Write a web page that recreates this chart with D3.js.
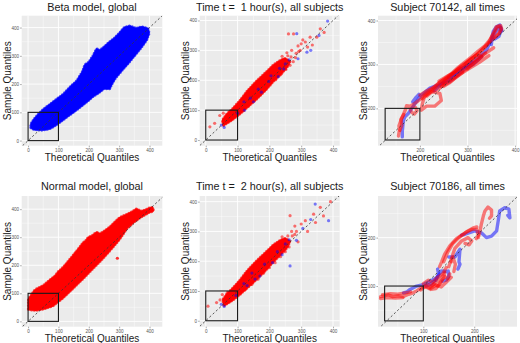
<!DOCTYPE html>
<html>
<head>
<meta charset="utf-8">
<script src="https://cdn.jsdelivr.net/npm/d3@7"></script>
<style>
  body { margin: 0; background: #fff; }
  svg text { font-family: "Liberation Sans", Arial, sans-serif; white-space: pre; }
</style>
</head>
<body>
<div id="chart"></div>
<script>
// ---- data (data units) ----
const titles = [
  "Beta model, global",
  "Time t =  1 hour(s), all subjects",
  "Subject 70142, all times",
  "Normal model, global",
  "Time t =  2 hour(s), all subjects",
  "Subject 70186, all times"
];
const ticksMain = [0, 100, 200, 300, 400];
const ticksS1 = [200, 300, 400];
const ticksS2 = [100, 200];
const minorMain = [50, 150, 250, 350];
const minorS1 = [150, 250, 350];
const minorS2 = [50, 150, 250];

// dense clouds as outlines
const betaCloud = [[10,46],[20,40],[45,38],[70,42],[95,58],[128,85],[150,102],[172,120],[195,140],[215,158],[235,172],[250,185],[268,184],[275,200],[287,222],[300,238],[314,256],[330,275],[346,296],[360,314],[372,330],[390,357],[398,380],[394,396],[375,402],[355,396],[335,405],[318,400],[300,378],[285,362],[268,348],[250,330],[236,318],[226,324],[215,300],[200,276],[188,268],[180,244],[162,212],[140,190],[118,165],[95,146],[73,128],[51,110],[35,93],[20,75],[10,58]];
const normalCloud = [[2,43],[25,40],[51,45],[80,55],[110,80],[128,98],[155,126],[183,156],[210,186],[237,215],[260,242],[281,268],[300,292],[325,332],[345,352],[368,370],[396,388],[412,394],[410,405],[401,404],[390,398],[372,392],[357,400],[340,388],[320,378],[303,370],[285,352],[270,336],[250,320],[237,311],[226,317],[212,305],[199,299],[190,286],[183,281],[165,256],[144,228],[130,210],[117,193],[100,176],[90,162],[70,145],[51,127],[30,116],[20,108],[13,96],[2,79]];
const normalOut = [[294,225]];

// time panels: dense core plus scattered points
const t1Core = [[56,50],[80,66],[107,88],[130,110],[160,138],[190,170],[213,198],[235,220],[255,244],[264,262],[250,272],[235,266],[213,250],[190,226],[160,196],[130,162],[107,130],[85,104],[65,84],[53,66]];
const t1Red = [[13,44],[28,56],[44,82],[55,90],[70,78],[62,72],[75,95],[82,70],[90,108],[96,82],[112,135],[118,98],[128,150],[135,115],[145,168],[152,133],[162,196],[170,150],[178,210],[186,168],[195,225],[202,188],[210,240],[220,202],[228,258],[236,220],[245,270],[252,236],[258,282],[265,250],[270,300],[275,262],[260,355],[276,355],[284,290],[290,315],[297,300],[305,335],[313,328],[320,311],[328,344],[335,318],[349,344],[360,372],[372,360],[300,322],[255,292],[268,278],[282,276],[292,296],[240,280],[215,228],[186,200]];
const t1Blue = [[49,50],[58,42],[100,90],[122,100],[150,128],[198,196],[228,212],[245,238],[286,356],[318,294],[330,300],[383,398],[356,350],[290,272],[175,160],[262,268],[120,128],[140,140],[165,170],[205,215],[232,240],[250,255]];
const t2Core = [[58,52],[82,68],[108,90],[132,113],[160,140],[190,172],[213,200],[235,223],[255,246],[264,266],[250,276],[235,270],[213,254],[190,230],[160,200],[130,166],[107,134],[85,108],[66,88],[54,70]];
const t2Red = [[7,49],[34,61],[45,70],[52,88],[60,65],[68,95],[75,72],[85,105],[90,80],[100,122],[108,92],[118,140],[125,105],[138,160],[145,122],[158,182],[165,140],[175,200],[182,160],[195,220],[200,178],[212,238],[218,195],[228,255],[235,215],[245,268],[250,232],[258,285],[262,248],[265,353],[270,300],[280,318],[290,265],[300,325],[313,336],[320,300],[339,358],[345,330],[360,381],[370,352],[392,400],[280,290],[272,285],[285,300],[240,282],[222,250]];
const t2Blue = [[49,55],[58,48],[95,85],[130,118],[170,150],[210,195],[240,222],[265,184],[285,270],[305,310],[344,392],[386,336],[330,340],[250,258],[155,140],[120,125],[145,160],[185,190],[225,232],[262,272]];

// subject panels: trajectories
const s1Red = [
  [[155,137],[157,150],[156,160],[160,172],[165,185],[170,198],[172,206],[180,205],[190,203],[194,195],[188,187],[182,192],[178,204],[190,212],[200,220],[210,232],[224,244],[238,256],[252,268],[266,279],[280,293],[294,305],[308,317],[322,330],[336,342],[347,356],[356,372],[363,385],[370,388],[372,380],[366,370],[357,362],[348,352]],
  [[203,196],[214,205],[231,205],[245,218],[242,234],[224,238],[210,228],[205,210],[203,196]],
  [[250,250],[262,258],[275,270],[290,282],[285,292],[270,280],[255,268],[248,258]],
  [[240,262],[260,275],[280,285],[300,298],[320,314],[340,327],[355,338]],
  [[245,250],[265,262],[285,278],[305,292],[325,305],[345,320]],
  [[300,290],[315,305],[330,318],[320,322],[305,310],[295,300]],
  [[200,230],[215,240],[230,248],[245,262],[258,270],[272,282],[286,296],[300,306],[315,318],[330,332],[342,345]],
  [[205,222],[220,236],[236,250],[250,258],[264,272],[278,288],[292,298],[306,312],[320,322],[334,338],[345,350]],
  [[215,228],[228,240],[242,246],[256,262],[270,268],[284,280],[298,290],[312,302],[326,314],[338,326]],
  [[345,350],[350,362],[356,375],[360,385],[366,388],[370,382],[367,372],[362,366],[356,360]],
  [[158,150],[162,162],[160,175],[166,186]]
];
const s1Blue = [
  [[163,135],[163,147],[164,158],[165,170],[168,180],[176,189],[183,200],[190,211],[203,230],[221,246],[238,253],[259,265],[280,284],[301,299],[322,314],[340,333],[350,356],[354,375],[361,386],[368,390],[371,379],[366,364],[357,358]],
  [[185,215],[192,225],[198,232]],
  [[260,270],[275,280],[290,292],[310,305]],
  [[230,240],[245,255],[262,262],[278,275],[296,292],[312,300],[330,318]],
  [[350,345],[352,360],[358,372],[364,380],[370,384],[372,376]]
];
const s2Red = [
  [[16,78],[25,80],[31,82],[40,78],[51,80],[60,78],[71,83],[80,86],[87,90],[97,97],[110,103],[118,100],[123,107],[130,112],[136,117],[142,128],[140,118],[133,105],[125,95],[115,93],[105,98]],
  [[16,74],[30,76],[45,75],[60,76]],
  [[20,82],[35,84],[50,83],[65,86],[75,88]],
  [[95,92],[105,100],[112,96],[120,104],[128,100],[135,110],[142,120],[148,115],[152,125]],
  [[100,105],[110,112],[118,108],[128,118],[138,125],[145,138],[140,128]],
  [[115,95],[125,102],[135,98],[145,108],[155,118]],
  [[132,140],[136,150],[142,166],[152,183],[165,198],[182,210],[195,217],[205,217],[208,205],[204,198]],
  [[140,150],[148,170],[158,188],[170,200],[185,212],[198,220],[205,222]],
  [[150,140],[156,159],[162,178],[175,193],[188,200],[195,193],[190,185],[182,188]],
  [[160,130],[163,145],[158,160],[155,150]],
  [[208,200],[211,212],[214,228],[218,245],[221,255],[227,263],[234,257],[234,245],[230,240]]
];
const s2Blue = [
  [[61,86],[68,88],[74,93],[87,100],[100,103],[113,110],[126,117],[136,131],[145,130],[149,131],[150,120],[145,112],[138,110]],
  [[150,160],[162,160],[172,176],[170,150],[172,145],[168,135]],
  [[175,205],[182,207],[201,214],[214,210],[224,200],[234,203],[244,214],[247,234],[250,255],[260,262],[268,259],[270,241],[266,246]],
  [[125,112],[130,125],[128,135]],
  [[105,100],[115,104],[122,110]]
];

// black boxes [x0, x1, y0, y1]
const boxes = [[0,100,0,100],[0,100,0,100],[127,200,128,200],[0,100,0,100],[0,100,0,100],[24,100,28,100]];

const W = 520, H = 343;
const RED = "#ff0000", BLUE = "#0000ff";

const svg = d3.select("#chart").append("svg")
  .attr("width", W).attr("height", H);

// panel geometry: plot rect + domains
const panels = [
  { x0: 21.7, x1: 162.3, y0: 15.7, y1: 145.7, xd: [-21, 442], yd: [-18, 442], ticks: ticksMain, minor: minorMain, yLab: 10.7 },
  { x0: 199.7, x1: 339.7, y0: 15.7, y1: 145.7, xd: [-19, 421], yd: [-19, 416], ticks: ticksMain, minor: minorMain, yLab: 189.3 },
  { x0: 378, x1: 517, y0: 15.7, y1: 145.7, xd: [112, 404], yd: [115, 411], ticks: ticksS1, minor: minorS1, yLab: 367 },
  { x0: 21.7, x1: 162.3, y0: 196, y1: 326.7, xd: [-21, 442], yd: [-19, 447], ticks: ticksMain, minor: minorMain, yLab: 10.7 },
  { x0: 199.7, x1: 339.7, y0: 196, y1: 326.7, xd: [-19, 421], yd: [-20, 419], ticks: ticksMain, minor: minorMain, yLab: 189.3 },
  { x0: 378, x1: 517, y0: 196, y1: 326.7, xd: [11, 284], yd: [16, 286], ticks: ticksS2, minor: minorS2, yLab: 367 }
];

panels.forEach((p, i) => {
  let x = d3.scaleLinear().domain(p.xd).range([p.x0, p.x1]);
  let y = d3.scaleLinear().domain(p.yd).range([p.y1, p.y0]);
  let g = svg.append("g");
  let clipId = "clip" + i;

  g.append("clipPath").attr("id", clipId)
    .append("rect")
    .attr("x", p.x0).attr("y", p.y0)
    .attr("width", p.x1 - p.x0).attr("height", p.y1 - p.y0);

  g.append("rect")
    .attr("x", p.x0).attr("y", p.y0)
    .attr("width", p.x1 - p.x0).attr("height", p.y1 - p.y0)
    .attr("fill", "#ebebeb");

  // grid
  let grid = g.append("g").attr("stroke", "#fff");
  p.minor.forEach((v) => {
    grid.append("line").attr("x1", x(v)).attr("x2", x(v)).attr("y1", p.y0).attr("y2", p.y1).attr("stroke-width", 0.4);
    grid.append("line").attr("y1", y(v)).attr("y2", y(v)).attr("x1", p.x0).attr("x2", p.x1).attr("stroke-width", 0.4);
  });
  p.ticks.forEach((v) => {
    grid.append("line").attr("x1", x(v)).attr("x2", x(v)).attr("y1", p.y0).attr("y2", p.y1).attr("stroke-width", 0.9);
    grid.append("line").attr("y1", y(v)).attr("y2", y(v)).attr("x1", p.x0).attr("x2", p.x1).attr("stroke-width", 0.9);
  });

  // axes
  let xa = g.append("g").attr("transform", `translate(0,${p.y1})`)
    .call(d3.axisBottom(x).tickValues(p.ticks).tickSize(1.6).tickPadding(1));
  let ya = g.append("g").attr("transform", `translate(${p.x0},0)`)
    .call(d3.axisLeft(y).tickValues(p.ticks).tickSize(1.6).tickPadding(1));
  [xa, ya].forEach((a) => {
    a.select(".domain").remove();
    a.selectAll("line").attr("stroke", "#555").attr("stroke-width", 0.5);
    a.selectAll("text").attr("fill", "#555").style("font-size", "4.6px").style("font-family", "'Liberation Sans', Arial, sans-serif");
  });

  let marks = g.append("g").attr("clip-path", `url(#${clipId})`);
  let line = d3.line().x((d) => x(d[0])).y((d) => y(d[1]));
  let closed = d3.line().x((d) => x(d[0])).y((d) => y(d[1])).curve(d3.curveLinearClosed);

  let cloud = (pts, col) => {
    marks.append("path").datum(pts)
      .attr("d", closed).attr("fill", col).attr("stroke", col)
      .attr("stroke-width", 1.5).attr("stroke-linejoin", "round");
    // bumpy fringe made of dots along the outline
    marks.append("path").datum(pts)
      .attr("d", closed).attr("fill", "none").attr("stroke", col)
      .attr("stroke-opacity", 0.75)
      .attr("stroke-width", 3.6).attr("stroke-linecap", "round")
      .attr("stroke-dasharray", "0,2.8");
  };
  let dots = (pts, col, op) => marks.append("g").selectAll("circle").data(pts).join("circle")
    .attr("cx", (d) => x(d[0])).attr("cy", (d) => y(d[1])).attr("r", 1.6)
    .attr("fill", col).attr("fill-opacity", op);
  let trails = (paths, col) => marks.append("g").selectAll("path").data(paths).join("path")
    .attr("d", line).attr("fill", "none").attr("stroke", col)
    .attr("stroke-opacity", 0.5).attr("stroke-width", 3.4)
    .attr("stroke-linejoin", "round").attr("stroke-linecap", "round");

  if (i === 0) cloud(betaCloud, BLUE);
  if (i === 3) { cloud(normalCloud, RED); dots(normalOut, RED, 0.8); }
  if (i === 1) { cloud(t1Core, RED); dots(t1Red, RED, 0.55); dots(t1Blue, BLUE, 0.5); }
  if (i === 4) { cloud(t2Core, RED); dots(t2Red, RED, 0.55); dots(t2Blue, BLUE, 0.5); }
  if (i === 2) { trails(s1Blue, BLUE); trails(s1Red, RED); }
  if (i === 5) { trails(s2Blue, BLUE); trails(s2Red, RED); }

  // identity line
  marks.append("line")
    .attr("x1", x(p.xd[0] - 50)).attr("y1", y(p.xd[0] - 50))
    .attr("x2", x(p.xd[1] + 50)).attr("y2", y(p.xd[1] + 50))
    .attr("stroke", "#333").attr("stroke-width", 0.8).attr("stroke-dasharray", "2.2,2.2");

  // box
  let b = boxes[i];
  g.append("rect")
    .attr("x", x(b[0])).attr("y", y(b[3]))
    .attr("width", x(b[1]) - x(b[0])).attr("height", y(b[2]) - y(b[3]))
    .attr("fill", "none").attr("stroke", "#1a1a1a").attr("stroke-width", 1.1);

  // titles
  let cx = (p.x0 + p.x1) / 2, cy = (p.y0 + p.y1) / 2;
  let row = i < 3 ? 0 : 1;
  g.append("text").attr("x", cx).attr("y", row ? 190.3 : 10.5)
    .attr("text-anchor", "middle").style("font-size", "10.8px").attr("fill", "#1a1a1a")
    .text(titles[i]);
  g.append("text").attr("x", cx).attr("y", row ? 341.5 : 160.5)
    .attr("text-anchor", "middle").style("font-size", "10px").attr("fill", "#1a1a1a")
    .text("Theoretical Quantiles");
  g.append("text").attr("transform", `translate(${p.yLab},${cy}) rotate(-90)`)
    .attr("text-anchor", "middle").style("font-size", "10px").attr("fill", "#1a1a1a")
    .text("Sample Quantiles");
});
</script>
</body>
</html>
